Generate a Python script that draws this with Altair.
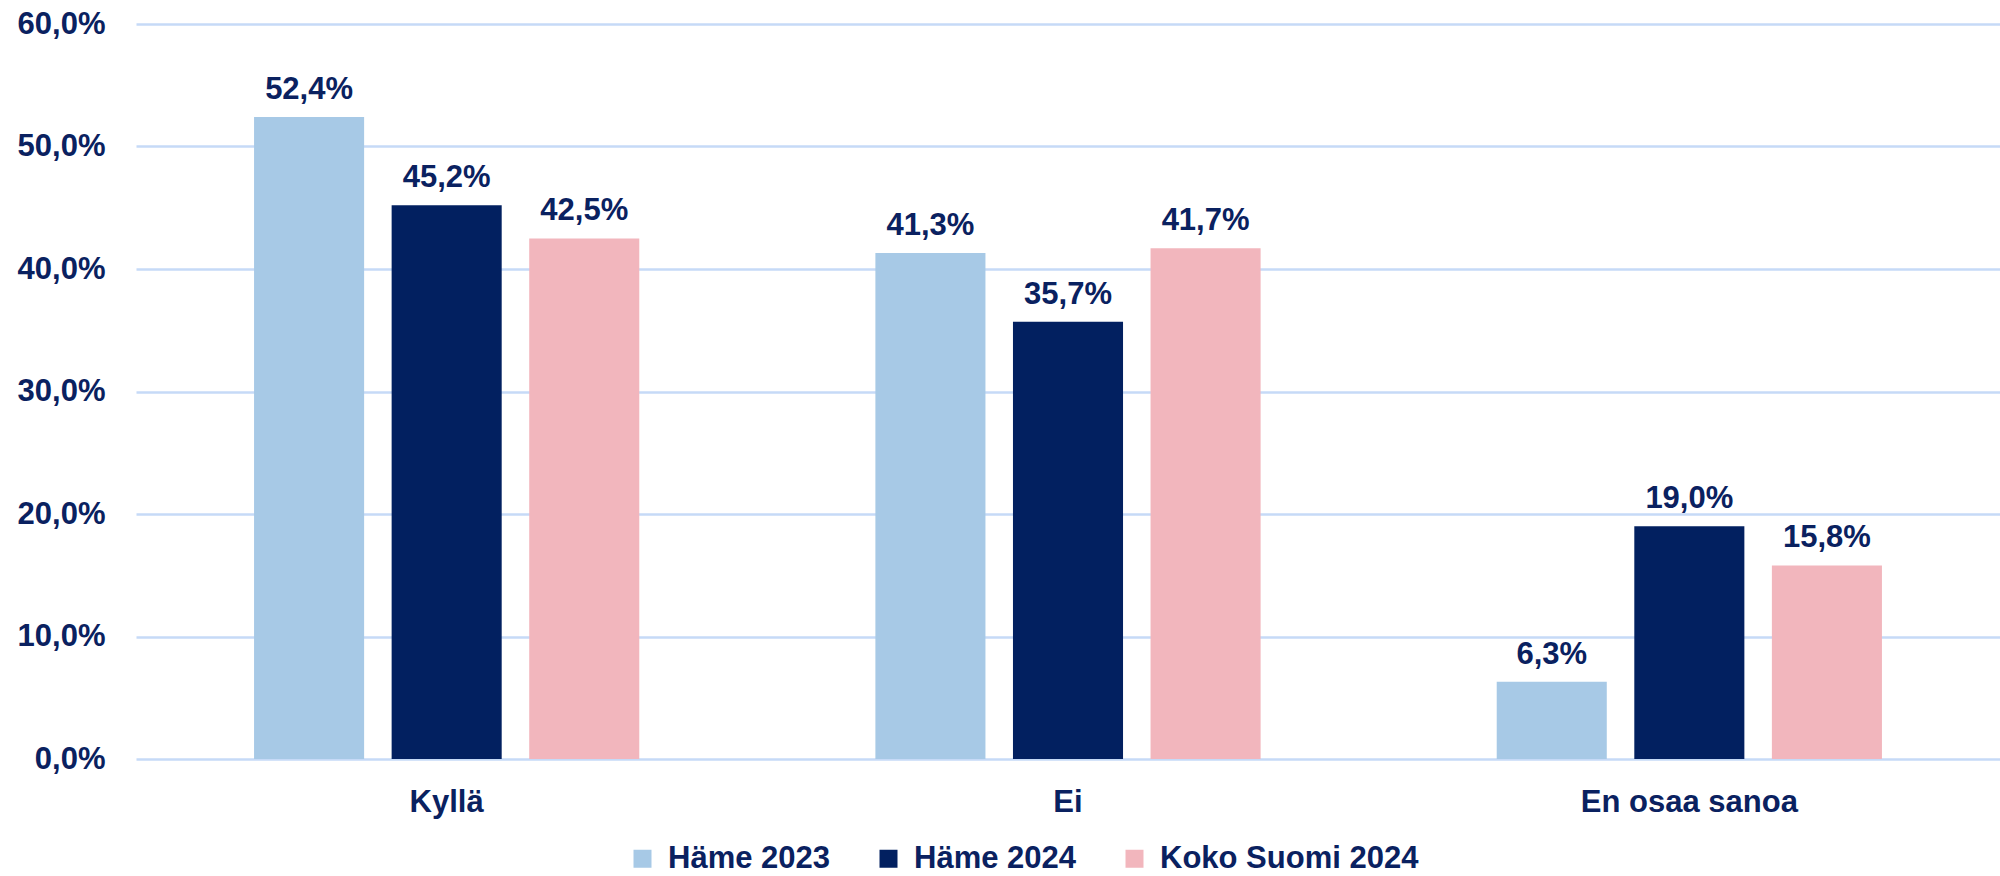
import altair as alt
import pandas as pd

categories = ["Kyllä", "Ei", "En osaa sanoa"]
series = ["Häme 2023", "Häme 2024", "Koko Suomi 2024"]
hame_2023 = [52.4, 41.3, 6.3]
hame_2024 = [45.2, 35.7, 19.0]
koko_suomi_2024 = [42.5, 41.7, 15.8]
y_ticks = [0, 10, 20, 30, 40, 50, 60]
colors = ["#A7C9E6", "#022060", "#F2B6BD"]

rows = []
for s, vals in zip(series, [hame_2023, hame_2024, koko_suomi_2024]):
    for c, v in zip(categories, vals):
        rows.append({"kategoria": c, "sarja": s, "arvo": v,
                     "teksti": f"{v:.1f}".replace(".", ",") + "%"})
df = pd.DataFrame(rows)

FONT = "Liberation Sans"
NAVY = "#0A2160"
FS = 31

x_enc = alt.X("kategoria:N", sort=categories, title=None,
              scale=alt.Scale(paddingInner=0.38, paddingOuter=0.19),
              axis=alt.Axis(labelAngle=0, ticks=False, domain=False,
                            labelPadding=28, labelFont=FONT, labelFontSize=FS,
                            labelFontWeight="bold", labelColor=NAVY, grid=False,
                            labelLimit=600))
xoff = alt.XOffset("sarja:N", sort=series,
                   scale=alt.Scale(paddingInner=0.2, paddingOuter=0))
y_enc = alt.Y("arvo:Q", title=None,
              scale=alt.Scale(domain=[0, 60], nice=False),
              axis=alt.Axis(values=y_ticks, ticks=False, domain=False,
                            labelExpr="replace(format(datum.value, '.1f'), '.', ',') + '%'",
                            labelPadding=31, labelFont=FONT, labelFontSize=FS,
                            labelFontWeight="bold", labelColor=NAVY,
                            gridColor="#C6DAF7", gridWidth=2.5))

bars = alt.Chart(df).mark_bar().encode(
    x=x_enc, xOffset=xoff, y=y_enc,
    color=alt.Color("sarja:N", sort=series,
                    scale=alt.Scale(domain=series, range=colors),
                    legend=alt.Legend(title=None, orient="none", direction="horizontal",
                                      legendX=491, legendY=819, padding=0,
                                      symbolType="square", symbolSize=324,
                                      symbolStrokeWidth=0, labelOffset=10,
                                      columnPadding=42,
                                      labelFont=FONT, labelFontSize=FS,
                                      labelFontWeight="bold", labelColor=NAVY,
                                      labelLimit=400)),
)

labels = alt.Chart(df).mark_text(
    baseline="alphabetic", dy=-18, font=FONT, fontSize=FS,
    fontWeight="bold", color=NAVY
).encode(
    x=alt.X("kategoria:N", sort=categories),
    xOffset=alt.XOffset("sarja:N", sort=series),
    y="arvo:Q",
    text="teksti:N",
)

chart = alt.layer(bars, labels).properties(
    width=1864, height=735,
    autosize=alt.AutoSizeParams(type="none"),
    padding={"left": 136, "top": 24, "right": 0, "bottom": 117},
    background="white",
).configure_view(stroke=None)

chart.save("out.html", embed_options={"renderer": "svg", "actions": False})
